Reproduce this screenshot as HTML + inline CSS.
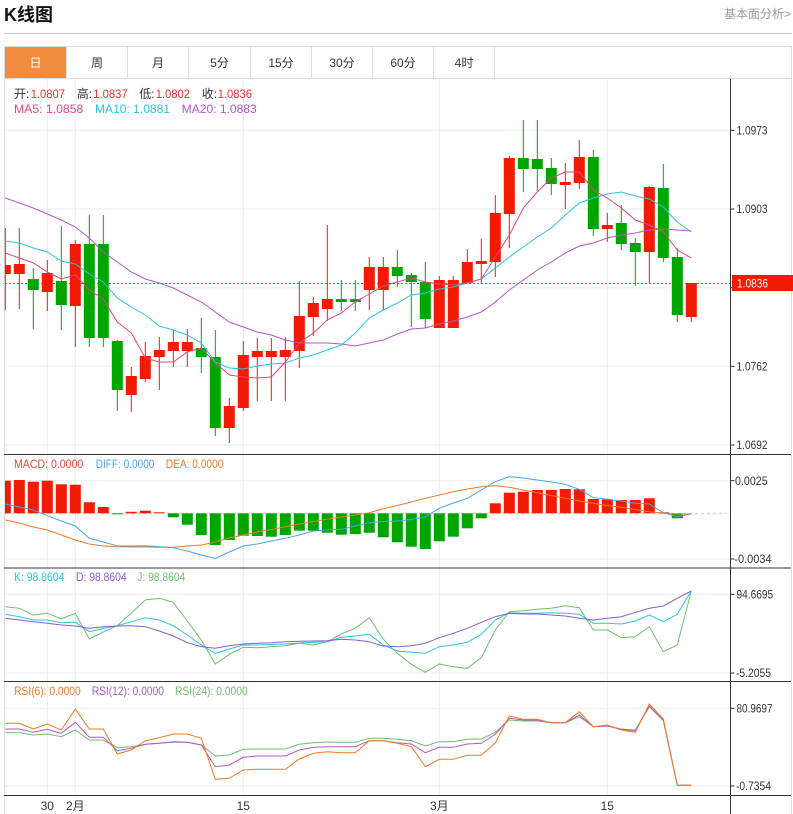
<!DOCTYPE html>
<html>
<head>
<meta charset="utf-8">
<style>
html,body{margin:0;padding:0;background:#fff;}
svg{display:block;}
text{font-family:"Liberation Sans","Noto Sans CJK SC",sans-serif;}
</style>
</head>
<body>
<svg width="793" height="814" viewBox="0 0 793 814" xmlns="http://www.w3.org/2000/svg">
<rect x="0" y="0" width="793" height="814" fill="#fff"/>
<!-- header -->
<text x="4" y="21" font-size="18" font-weight="bold" fill="#111">K线图</text>
<text x="791" y="18" font-size="12" fill="#999" text-anchor="end">基本面分析&gt;</text>
<line x1="4" y1="33.5" x2="792" y2="33.5" stroke="#ccc" stroke-width="1"/>

<!-- tabs -->
<rect x="5" y="47" width="61" height="31" fill="#f28c3e"/>
<line x1="4.5" y1="46.5" x2="791.5" y2="46.5" stroke="#ddd"/>
<line x1="4.5" y1="78.5" x2="791.5" y2="78.5" stroke="#ddd"/>
<g stroke="#ddd">
<line x1="66.5" y1="46.5" x2="66.5" y2="78.5"/>
<line x1="127.5" y1="46.5" x2="127.5" y2="78.5"/>
<line x1="188.5" y1="46.5" x2="188.5" y2="78.5"/>
<line x1="250.5" y1="46.5" x2="250.5" y2="78.5"/>
<line x1="311.5" y1="46.5" x2="311.5" y2="78.5"/>
<line x1="372.5" y1="46.5" x2="372.5" y2="78.5"/>
<line x1="433.5" y1="46.5" x2="433.5" y2="78.5"/>
<line x1="494.5" y1="46.5" x2="494.5" y2="78.5"/>
</g>
<g font-size="12" text-anchor="middle" fill="#333">
<text x="35.5" y="67" fill="#fff">日</text>
<text x="97" y="67">周</text>
<text x="158" y="67">月</text>
<text x="219.5" y="67">5分</text>
<text x="281" y="67">15分</text>
<text x="342" y="67">30分</text>
<text x="403" y="67">60分</text>
<text x="464" y="67">4时</text>
</g>

<!-- borders -->
<line x1="4.5" y1="46.5" x2="4.5" y2="814" stroke="#ddd"/>
<line x1="791.5" y1="46.5" x2="791.5" y2="814" stroke="#ddd"/>

<!-- grid -->
<g stroke="#e6edf3" stroke-width="1">
<line x1="47.3" y1="79" x2="47.3" y2="795"/>
<line x1="75.3" y1="79" x2="75.3" y2="795"/>
<line x1="243.3" y1="79" x2="243.3" y2="795"/>
<line x1="439.3" y1="79" x2="439.3" y2="795"/>
<line x1="607.3" y1="79" x2="607.3" y2="795"/>
<line x1="5" y1="130.3" x2="730" y2="130.3"/>
<line x1="5" y1="209" x2="730" y2="209"/>
<line x1="5" y1="287.7" x2="730" y2="287.7"/>
<line x1="5" y1="366.3" x2="730" y2="366.3"/>
<line x1="5" y1="445" x2="730" y2="445"/>
<line x1="5" y1="480.7" x2="730" y2="480.7"/>
<line x1="5" y1="559" x2="730" y2="559"/>
<line x1="5" y1="594.3" x2="730" y2="594.3"/>
<line x1="5" y1="673" x2="730" y2="673"/>
<line x1="5" y1="708.3" x2="730" y2="708.3"/>
<line x1="5" y1="786" x2="730" y2="786"/>
</g>

<!-- current price dashed line -->
<line x1="5" y1="283.5" x2="730" y2="283.5" stroke="#f04040" stroke-width="1" stroke-dasharray="2,2"/>

<!-- candles red -->
<g stroke="#f21a00" stroke-width="1" fill="#f21a00">
<line x1="5.3" y1="228" x2="5.3" y2="310"/><rect x="5" y="265" width="5.8" height="9" stroke="none"/>
<line x1="19.3" y1="228" x2="19.3" y2="309"/><rect x="13.8" y="264" width="11" height="10" stroke="none"/>
<line x1="47.3" y1="260" x2="47.3" y2="311"/><rect x="41.8" y="273" width="11" height="19" stroke="none"/>
<line x1="75.3" y1="240" x2="75.3" y2="347"/><rect x="69.8" y="244" width="11" height="62" stroke="none"/>
<line x1="131.3" y1="367" x2="131.3" y2="412"/><rect x="125.8" y="376" width="11" height="19" stroke="none"/>
<line x1="145.3" y1="342" x2="145.3" y2="382"/><rect x="139.8" y="356" width="11" height="23" stroke="none"/>
<line x1="159.3" y1="337" x2="159.3" y2="390"/><rect x="153.8" y="350" width="11" height="7" stroke="none"/>
<line x1="173.3" y1="330" x2="173.3" y2="367"/><rect x="167.8" y="342" width="11" height="9" stroke="none"/>
<line x1="187.3" y1="329" x2="187.3" y2="367"/><rect x="181.8" y="342" width="11" height="9" stroke="none"/>
<line x1="229.3" y1="398" x2="229.3" y2="443"/><rect x="223.8" y="406" width="11" height="22" stroke="none"/>
<line x1="243.3" y1="341" x2="243.3" y2="411"/><rect x="237.8" y="355" width="11" height="53" stroke="none"/>
<line x1="257.3" y1="338" x2="257.3" y2="401"/><rect x="251.8" y="351" width="11" height="6" stroke="none"/>
<line x1="271.3" y1="338" x2="271.3" y2="401"/><rect x="265.8" y="351" width="11" height="6" stroke="none"/>
<line x1="285.3" y1="337" x2="285.3" y2="401"/><rect x="279.8" y="350" width="11" height="7" stroke="none"/>
<line x1="299.3" y1="281" x2="299.3" y2="368"/><rect x="293.8" y="316" width="11" height="35" stroke="none"/>
<line x1="313.3" y1="297" x2="313.3" y2="336"/><rect x="307.8" y="303" width="11" height="14" stroke="none"/>
<line x1="327.3" y1="225" x2="327.3" y2="321"/><rect x="321.8" y="299" width="11" height="10" stroke="none"/>
<line x1="369.3" y1="257" x2="369.3" y2="310"/><rect x="363.8" y="267" width="11" height="23" stroke="none"/>
<line x1="383.3" y1="257" x2="383.3" y2="310"/><rect x="377.8" y="267" width="11" height="23" stroke="none"/>
<line x1="439.3" y1="276" x2="439.3" y2="328"/><rect x="433.8" y="280" width="11" height="48" stroke="none"/>
<line x1="453.3" y1="276" x2="453.3" y2="328"/><rect x="447.8" y="280" width="11" height="48" stroke="none"/>
<line x1="467.3" y1="249" x2="467.3" y2="283"/><rect x="461.8" y="262" width="11" height="21" stroke="none"/>
<line x1="481.3" y1="239" x2="481.3" y2="283"/><rect x="475.8" y="261" width="11" height="3" stroke="none"/>
<line x1="495.3" y1="195" x2="495.3" y2="277"/><rect x="489.8" y="213" width="11" height="49" stroke="none"/>
<line x1="509.3" y1="156" x2="509.3" y2="248"/><rect x="503.8" y="158" width="11" height="56" stroke="none"/>
<line x1="565.3" y1="163" x2="565.3" y2="209"/><rect x="559.8" y="182" width="11" height="3" stroke="none"/>
<line x1="579.3" y1="140" x2="579.3" y2="189"/><rect x="573.8" y="157" width="11" height="26" stroke="none"/>
<line x1="607.3" y1="213" x2="607.3" y2="242"/><rect x="601.8" y="225" width="11" height="4" stroke="none"/>
<line x1="649.3" y1="186" x2="649.3" y2="283"/><rect x="643.8" y="187" width="11" height="65" stroke="none"/>
<line x1="691.3" y1="283" x2="691.3" y2="322"/><rect x="685.8" y="283" width="11" height="34" stroke="none"/>
</g>
<!-- candles green -->
<g stroke="#00a600" stroke-width="1" fill="#00a600">
<line x1="33.3" y1="268" x2="33.3" y2="329"/><rect x="27.8" y="279" width="11" height="11" stroke="none"/>
<line x1="61.3" y1="226" x2="61.3" y2="330"/><rect x="55.8" y="281" width="11" height="24" stroke="none"/>
<line x1="89.3" y1="215" x2="89.3" y2="347"/><rect x="83.8" y="244" width="11" height="94" stroke="none"/>
<line x1="103.3" y1="215" x2="103.3" y2="347"/><rect x="97.8" y="244" width="11" height="94" stroke="none"/>
<line x1="117.3" y1="340" x2="117.3" y2="411"/><rect x="111.8" y="341" width="11" height="49" stroke="none"/>
<line x1="201.3" y1="318" x2="201.3" y2="373"/><rect x="195.8" y="348" width="11" height="9" stroke="none"/>
<line x1="215.3" y1="330" x2="215.3" y2="436"/><rect x="209.8" y="357" width="11" height="71" stroke="none"/>
<line x1="341.3" y1="280" x2="341.3" y2="311"/><rect x="335.8" y="299" width="11" height="3" stroke="none"/>
<line x1="355.3" y1="280" x2="355.3" y2="311"/><rect x="349.8" y="299" width="11" height="3" stroke="none"/>
<line x1="397.3" y1="250" x2="397.3" y2="287"/><rect x="391.8" y="267" width="11" height="9" stroke="none"/>
<line x1="411.3" y1="273" x2="411.3" y2="327"/><rect x="405.8" y="275" width="11" height="7" stroke="none"/>
<line x1="425.3" y1="262" x2="425.3" y2="328"/><rect x="419.8" y="282" width="11" height="37" stroke="none"/>
<line x1="523.3" y1="120" x2="523.3" y2="192"/><rect x="517.8" y="158" width="11" height="11" stroke="none"/>
<line x1="537.3" y1="120" x2="537.3" y2="191"/><rect x="531.8" y="159" width="11" height="10" stroke="none"/>
<line x1="551.3" y1="158" x2="551.3" y2="195"/><rect x="545.8" y="168" width="11" height="16" stroke="none"/>
<line x1="593.3" y1="150" x2="593.3" y2="236"/><rect x="587.8" y="157" width="11" height="72" stroke="none"/>
<line x1="621.3" y1="205" x2="621.3" y2="250"/><rect x="615.8" y="223" width="11" height="21" stroke="none"/>
<line x1="635.3" y1="238" x2="635.3" y2="286"/><rect x="629.8" y="243" width="11" height="9" stroke="none"/>
<line x1="663.3" y1="164" x2="663.3" y2="262"/><rect x="657.8" y="188" width="11" height="70" stroke="none"/>
<line x1="677.3" y1="248" x2="677.3" y2="322"/><rect x="671.8" y="257" width="11" height="58" stroke="none"/>
</g>

<!-- MA lines -->
<g fill="none" stroke-width="1">
<polyline stroke="#b456c8" points="5.3,198 19.3,203 33.3,208 47.3,214 61.3,220 75.3,227 89.3,238 103.3,252 117.3,262 131.3,272 145.3,279 159.3,283 173.3,288 187.3,295 201.3,302 215.3,312 229.3,322 243.3,327 257.3,332 271.3,335 285.3,340 299.3,343 313.3,343 327.3,343 341.3,344 355.3,346 369.3,343 383.3,340 397.3,334 411.3,329 425.3,328 439.3,324 453.3,321 467.3,317 481.3,312 495.3,302 509.3,290 523.3,280 537.3,270 551.3,262 565.3,253 579.3,246 593.3,243 607.3,238 621.3,235 635.3,233 649.3,230 663.3,229 677.3,230 691.3,231"/>
<polyline stroke="#2cc4dc" points="5.3,241 19.3,243 33.3,248 47.3,252 61.3,261 75.3,264 89.3,274 103.3,282 117.3,298 131.3,307 145.3,315 159.3,326 173.3,330 187.3,335 201.3,343 215.3,362 229.3,368 243.3,369 257.3,366 271.3,364 285.3,363 299.3,358 313.3,355 327.3,350 341.3,345 355.3,333 369.3,318 383.3,310 397.3,303 411.3,295 425.3,293 439.3,289 453.3,287 467.3,283 481.3,279 495.3,268 509.3,257 523.3,247 537.3,237 551.3,228 565.3,215 579.3,203 593.3,198 607.3,194 621.3,192 635.3,196 649.3,199 663.3,207 677.3,222 691.3,232"/>
<polyline stroke="#e8457c" points="5.3,253 19.3,258 33.3,263 47.3,272 61.3,279 75.3,275 89.3,290 103.3,299 117.3,322 131.3,333 145.3,358 159.3,362 173.3,362 187.3,352 201.3,348 215.3,363 229.3,375 243.3,377 257.3,378 271.3,377 285.3,362 299.3,343 313.3,333 327.3,320 341.3,313 355.3,302 369.3,294 383.3,286 397.3,282 411.3,278 425.3,282 439.3,284 453.3,285 467.3,283 481.3,279 495.3,257 509.3,235 523.3,208 537.3,192 551.3,178 565.3,172 579.3,172 593.3,190 607.3,198 621.3,208 635.3,220 649.3,225 663.3,232 677.3,250 691.3,258"/>
</g>

<!-- main legend -->
<g font-size="12">
<text x="14" y="98" fill="#333">开:</text><text x="30.7" y="98" fill="#f03030" textLength="34.3" lengthAdjust="spacingAndGlyphs">1.0807</text>
<text x="76.7" y="98" fill="#333">高:</text><text x="93.3" y="98" fill="#f03030" textLength="34.3" lengthAdjust="spacingAndGlyphs">1.0837</text>
<text x="139.3" y="98" fill="#333">低:</text><text x="155.7" y="98" fill="#f03030" textLength="34.3" lengthAdjust="spacingAndGlyphs">1.0802</text>
<text x="201.7" y="98" fill="#333">收:</text><text x="217.7" y="98" fill="#f03030" textLength="34.3" lengthAdjust="spacingAndGlyphs">1.0836</text>
<text x="14" y="113" fill="#e8457c" textLength="69.3" lengthAdjust="spacingAndGlyphs">MA5: 1.0858</text>
<text x="95" y="113" fill="#2cc4dc" textLength="75" lengthAdjust="spacingAndGlyphs">MA10: 1.0881</text>
<text x="181.7" y="113" fill="#b456c8" textLength="75" lengthAdjust="spacingAndGlyphs">MA20: 1.0883</text>
</g>

<!-- MACD panel -->
<line x1="5" y1="513.5" x2="727" y2="513.5" stroke="#bfe0f2" stroke-width="1.5" stroke-dasharray="3,3"/>
<g fill="#f21a00">
<rect x="5" y="480.7" width="5.8" height="32.6"/>
<rect x="13.8" y="480" width="11" height="33.3"/>
<rect x="27.8" y="481.7" width="11" height="31.6"/>
<rect x="41.8" y="480.7" width="11" height="32.6"/>
<rect x="55.8" y="484.3" width="11" height="29"/>
<rect x="69.8" y="484.7" width="11" height="28.6"/>
<rect x="83.8" y="502.3" width="11" height="11"/>
<rect x="97.8" y="507" width="11" height="6.3"/>
<rect x="125.8" y="511.8" width="11" height="1.5"/>
<rect x="139.8" y="510.7" width="11" height="2.6"/>
<rect x="153.8" y="512.3" width="11" height="1"/>
<rect x="489.8" y="503.3" width="11" height="10"/>
<rect x="503.8" y="492.7" width="11" height="20.6"/>
<rect x="517.8" y="491.7" width="11" height="21.6"/>
<rect x="531.8" y="490" width="11" height="23.3"/>
<rect x="545.8" y="490" width="11" height="23.3"/>
<rect x="559.8" y="489" width="11" height="24.3"/>
<rect x="573.8" y="489.3" width="11" height="24"/>
<rect x="587.8" y="499" width="11" height="14.3"/>
<rect x="601.8" y="499.3" width="11" height="14"/>
<rect x="615.8" y="500" width="11" height="13.3"/>
<rect x="629.8" y="500" width="11" height="13.3"/>
<rect x="643.8" y="498.3" width="11" height="15"/>
<rect x="657.8" y="512.3" width="11" height="1"/>
</g>
<g fill="#00a600">
<rect x="111.8" y="513.3" width="11" height="1"/>
<rect x="167.8" y="513.3" width="11" height="4"/>
<rect x="181.8" y="513.3" width="11" height="11.4"/>
<rect x="195.8" y="513.3" width="11" height="21.7"/>
<rect x="209.8" y="513.3" width="11" height="31.7"/>
<rect x="223.8" y="513.3" width="11" height="26.7"/>
<rect x="237.8" y="513.3" width="11" height="22.4"/>
<rect x="251.8" y="513.3" width="11" height="22.7"/>
<rect x="265.8" y="513.3" width="11" height="23.4"/>
<rect x="279.8" y="513.3" width="11" height="21.7"/>
<rect x="293.8" y="513.3" width="11" height="17.4"/>
<rect x="307.8" y="513.3" width="11" height="17.4"/>
<rect x="321.8" y="513.3" width="11" height="19.4"/>
<rect x="335.8" y="513.3" width="11" height="21.4"/>
<rect x="349.8" y="513.3" width="11" height="20.7"/>
<rect x="363.8" y="513.3" width="11" height="19.4"/>
<rect x="377.8" y="513.3" width="11" height="24"/>
<rect x="391.8" y="513.3" width="11" height="29"/>
<rect x="405.8" y="513.3" width="11" height="33.4"/>
<rect x="419.8" y="513.3" width="11" height="35.7"/>
<rect x="433.8" y="513.3" width="11" height="28"/>
<rect x="447.8" y="513.3" width="11" height="23.4"/>
<rect x="461.8" y="513.3" width="11" height="15"/>
<rect x="475.8" y="513.3" width="11" height="5"/>
<rect x="671.8" y="513.3" width="11" height="5"/>
</g>
<g fill="none" stroke-width="1">
<polyline stroke="#f07a28" points="5.3,520 19.3,523 33.3,527 47.3,530 61.3,535 75.3,540 89.3,544 103.3,546 117.3,546.7 131.3,547 145.3,547 159.3,547.3 173.3,547.3 187.3,546 201.3,545 215.3,542 229.3,538 243.3,535 257.3,532 271.3,529.5 285.3,526.7 299.3,524 313.3,521.5 327.3,519.3 341.3,517 355.3,515 369.3,512.7 383.3,508.7 397.3,505.5 411.3,502 425.3,498.3 439.3,495 453.3,491.7 467.3,489 481.3,486.7 495.3,485.7 509.3,487.3 523.3,490 537.3,492.7 551.3,495.5 565.3,498.3 579.3,501 593.3,503.3 607.3,505.5 621.3,507.3 635.3,509.5 649.3,511.7 663.3,513.3 677.3,514 691.3,514"/>
<polyline stroke="#4aa3f0" points="5.3,504 19.3,507 33.3,510 47.3,515.7 61.3,521 75.3,526 89.3,538.3 103.3,542 117.3,546 131.3,546 145.3,545.7 159.3,546.7 173.3,547.7 187.3,551 201.3,555 215.3,558.3 229.3,552 243.3,546 257.3,544 271.3,541 285.3,538.3 299.3,535 313.3,531 327.3,530 341.3,529.3 355.3,526 369.3,522.7 383.3,521.5 397.3,521 411.3,519.5 425.3,516.7 439.3,508.3 453.3,503 467.3,498.3 481.3,490 495.3,481.7 509.3,476.7 523.3,478 537.3,480 551.3,482 565.3,484.3 579.3,489.3 593.3,497.7 607.3,499.3 621.3,501 635.3,503.3 649.3,504 663.3,512.7 677.3,516.7 691.3,514"/>
</g>
<g font-size="12">
<text x="14" y="468" fill="#e8483c" textLength="69.3" lengthAdjust="spacingAndGlyphs">MACD: 0.0000</text>
<text x="95.7" y="468" fill="#4aa3f0" textLength="58.7" lengthAdjust="spacingAndGlyphs">DIFF: 0.0000</text>
<text x="165.7" y="468" fill="#f07a28" textLength="57.7" lengthAdjust="spacingAndGlyphs">DEA: 0.0000</text>
</g>

<!-- KDJ panel -->
<g fill="none" stroke-width="1">
<polyline stroke="#6cbf6c" points="5.3,606.7 19.3,608.3 33.3,615 47.3,613.3 61.3,619 75.3,613.3 89.3,639 103.3,632 117.3,625.7 131.3,613 145.3,600 159.3,598.3 173.3,602.3 187.3,621 201.3,640 215.3,664 229.3,654.3 243.3,647.3 257.3,647.7 271.3,646.7 285.3,645.7 299.3,643.3 313.3,645 327.3,641.7 341.3,634 355.3,628.3 369.3,617.7 383.3,639.3 397.3,653.3 411.3,664.3 425.3,672.3 439.3,664 453.3,666.7 467.3,668.3 481.3,657.7 495.3,630 509.3,611.7 523.3,610.7 537.3,609.3 551.3,608.3 565.3,605.7 579.3,607.7 593.3,630 607.3,630 621.3,637.7 635.3,636.7 649.3,626.7 663.3,651.7 677.3,645 691.3,591"/>
<polyline stroke="#2cc4dc" points="5.3,614.3 19.3,616.7 33.3,620 47.3,620 61.3,622.7 75.3,622.3 89.3,631.7 103.3,628.5 117.3,625.7 131.3,621.7 145.3,617.7 159.3,620 173.3,625.7 187.3,635 201.3,645 215.3,653.3 229.3,649 243.3,645 257.3,645 271.3,644.5 285.3,644 299.3,643 313.3,642.3 327.3,641.7 341.3,637.3 355.3,636 369.3,634.3 383.3,645 397.3,651 411.3,652.3 425.3,653.3 439.3,646.7 453.3,645 467.3,642.3 481.3,634.3 495.3,620 509.3,612.7 523.3,613.3 537.3,613.3 551.3,612.7 565.3,613.3 579.3,614.3 593.3,623.3 607.3,623.3 621.3,624 635.3,621 649.3,615 663.3,621.7 677.3,614.3 691.3,591"/>
<polyline stroke="#8a5cd0" points="5.3,618.3 19.3,620 33.3,621.7 47.3,623.3 61.3,625 75.3,626 89.3,628.3 103.3,626.7 117.3,626 131.3,625.7 145.3,626.7 159.3,631 173.3,636 187.3,642.7 201.3,646.7 215.3,648.3 229.3,645.7 243.3,644 257.3,643.3 271.3,642.7 285.3,641.7 299.3,641.3 313.3,641 327.3,640.7 341.3,639.3 355.3,640 369.3,641.7 383.3,646 397.3,646.7 411.3,645.7 425.3,643.3 439.3,637.7 453.3,633.3 467.3,628.3 481.3,622.3 495.3,616.7 509.3,613.3 523.3,614 537.3,614 551.3,615 565.3,616 579.3,618.3 593.3,620 607.3,618.3 621.3,616.7 635.3,612.3 649.3,608.3 663.3,606 677.3,598.3 691.3,591"/>
</g>
<g font-size="12">
<text x="14" y="581" fill="#2cc4dc" textLength="50.3" lengthAdjust="spacingAndGlyphs">K: 98.8604</text>
<text x="76" y="581" fill="#8a5cd0" textLength="50.7" lengthAdjust="spacingAndGlyphs">D: 98.8604</text>
<text x="137.3" y="581" fill="#6cbf6c" textLength="48" lengthAdjust="spacingAndGlyphs">J: 98.8604</text>
</g>

<!-- RSI panel -->
<g fill="none" stroke-width="1">
<polyline stroke="#6cbf6c" points="5.3,732.7 19.3,732.7 33.3,735 47.3,734 61.3,736.7 75.3,730 89.3,740 103.3,740 117.3,747.7 131.3,746.7 145.3,744.3 159.3,743.3 173.3,742.3 187.3,742.3 201.3,745 215.3,756 229.3,755 243.3,749.3 257.3,749 271.3,749 285.3,749 299.3,744.3 313.3,742.7 327.3,742 341.3,742.3 355.3,742.3 369.3,738.3 383.3,738.3 397.3,739.3 411.3,740.7 425.3,746 439.3,741.7 453.3,741.7 467.3,739.3 481.3,739 495.3,732.3 509.3,720 523.3,721 537.3,721 551.3,722.7 565.3,722.7 579.3,716.7 593.3,726.7 607.3,726 621.3,729 635.3,730 649.3,706.7 663.3,720.7 677.3,785.3 691.3,785.3"/>
<polyline stroke="#b456c8" points="5.3,729 19.3,729 33.3,732.3 47.3,729.3 61.3,733.3 75.3,722.3 89.3,737.3 103.3,737.3 117.3,750.7 131.3,748.3 145.3,744.3 159.3,743.3 173.3,741.7 187.3,742.3 201.3,745 215.3,766.7 229.3,765 243.3,757.3 257.3,756 271.3,756 285.3,756 299.3,750 313.3,747.3 327.3,746.7 341.3,746.7 355.3,746.7 369.3,740.7 383.3,740.7 397.3,742.7 411.3,744 425.3,752.7 439.3,747.3 453.3,747.3 467.3,744 481.3,743.3 495.3,734.3 509.3,718.3 523.3,720 537.3,720 551.3,722.7 565.3,722.7 579.3,715 593.3,726.7 607.3,726 621.3,729.3 635.3,731 649.3,706 663.3,720 677.3,785.3 691.3,785.3"/>
<polyline stroke="#f07a28" points="5.3,723.3 19.3,723.3 33.3,729 47.3,724 61.3,730 75.3,709 89.3,729 103.3,729 117.3,754 131.3,750 145.3,740.7 159.3,737.7 173.3,734 187.3,734 201.3,738.3 215.3,779.3 229.3,778.3 243.3,770 257.3,769.3 271.3,769.3 285.3,769.3 299.3,759 313.3,753.3 327.3,751.7 341.3,752.7 355.3,752.7 369.3,740.7 383.3,740.7 397.3,743.3 411.3,746.7 425.3,766.7 439.3,759.3 453.3,759.3 467.3,755.3 481.3,755.3 495.3,742.7 509.3,716 523.3,719.3 537.3,719.3 551.3,722.7 565.3,722.7 579.3,711.7 593.3,726.7 607.3,725 621.3,730 635.3,732.3 649.3,704 663.3,719 677.3,785.3 691.3,785.3"/>
</g>
<g font-size="12">
<text x="14" y="695" fill="#f07a28" textLength="66.7" lengthAdjust="spacingAndGlyphs">RSI(6): 0.0000</text>
<text x="91.7" y="695" fill="#b456c8" textLength="72.3" lengthAdjust="spacingAndGlyphs">RSI(12): 0.0000</text>
<text x="175" y="695" fill="#6cbf6c" textLength="72.7" lengthAdjust="spacingAndGlyphs">RSI(24): 0.0000</text>
</g>

<!-- axes -->
<g stroke="#333" stroke-width="1">
<line x1="730.5" y1="79" x2="730.5" y2="814"/>
<line x1="4" y1="454.5" x2="791" y2="454.5"/>
<line x1="4" y1="568" x2="791" y2="568"/>
<line x1="4" y1="681.5" x2="791" y2="681.5"/>
<line x1="4" y1="795.5" x2="791" y2="795.5"/>
<line x1="730" y1="130.3" x2="734.5" y2="130.3"/>
<line x1="730" y1="209" x2="734.5" y2="209"/>
<line x1="730" y1="287.7" x2="734.5" y2="287.7"/>
<line x1="730" y1="366.3" x2="734.5" y2="366.3"/>
<line x1="730" y1="445" x2="734.5" y2="445"/>
<line x1="730" y1="480.7" x2="734.5" y2="480.7"/>
<line x1="730" y1="559" x2="734.5" y2="559"/>
<line x1="730" y1="594.3" x2="734.5" y2="594.3"/>
<line x1="730" y1="673" x2="734.5" y2="673"/>
<line x1="730" y1="708.3" x2="734.5" y2="708.3"/>
<line x1="730" y1="786" x2="734.5" y2="786"/>
</g>
<g font-size="11.5" fill="#333" lengthAdjust="spacingAndGlyphs">
<text x="736.5" y="134.5" textLength="31" lengthAdjust="spacingAndGlyphs">1.0973</text>
<text x="736.5" y="213" textLength="31" lengthAdjust="spacingAndGlyphs">1.0903</text>
<text x="736.5" y="370.5" textLength="31" lengthAdjust="spacingAndGlyphs">1.0762</text>
<text x="736.5" y="449" textLength="31" lengthAdjust="spacingAndGlyphs">1.0692</text>
<text x="735" y="485" textLength="32.7" lengthAdjust="spacingAndGlyphs">0.0025</text>
<text x="734.3" y="563" textLength="37.3" lengthAdjust="spacingAndGlyphs">-0.0034</text>
<text x="736.5" y="598.5" textLength="36.7" lengthAdjust="spacingAndGlyphs">94.6695</text>
<text x="736" y="677" textLength="35" lengthAdjust="spacingAndGlyphs">-5.2055</text>
<text x="736.5" y="712.5" textLength="36" lengthAdjust="spacingAndGlyphs">80.9697</text>
<text x="736" y="790" textLength="35" lengthAdjust="spacingAndGlyphs">-0.7354</text>
</g>
<rect x="732" y="275" width="61" height="16" fill="#f21a00"/>
<text x="737" y="287.5" font-size="11.5" fill="#fff" textLength="31" lengthAdjust="spacingAndGlyphs">1.0836</text>

<!-- date labels -->
<g font-size="12" fill="#333" text-anchor="middle">
<text x="47.3" y="810">30</text>
<text x="75.3" y="810">2月</text>
<text x="243.3" y="810">15</text>
<text x="439.3" y="810">3月</text>
<text x="607.3" y="810">15</text>
</g>
</svg>
</body>
</html>
